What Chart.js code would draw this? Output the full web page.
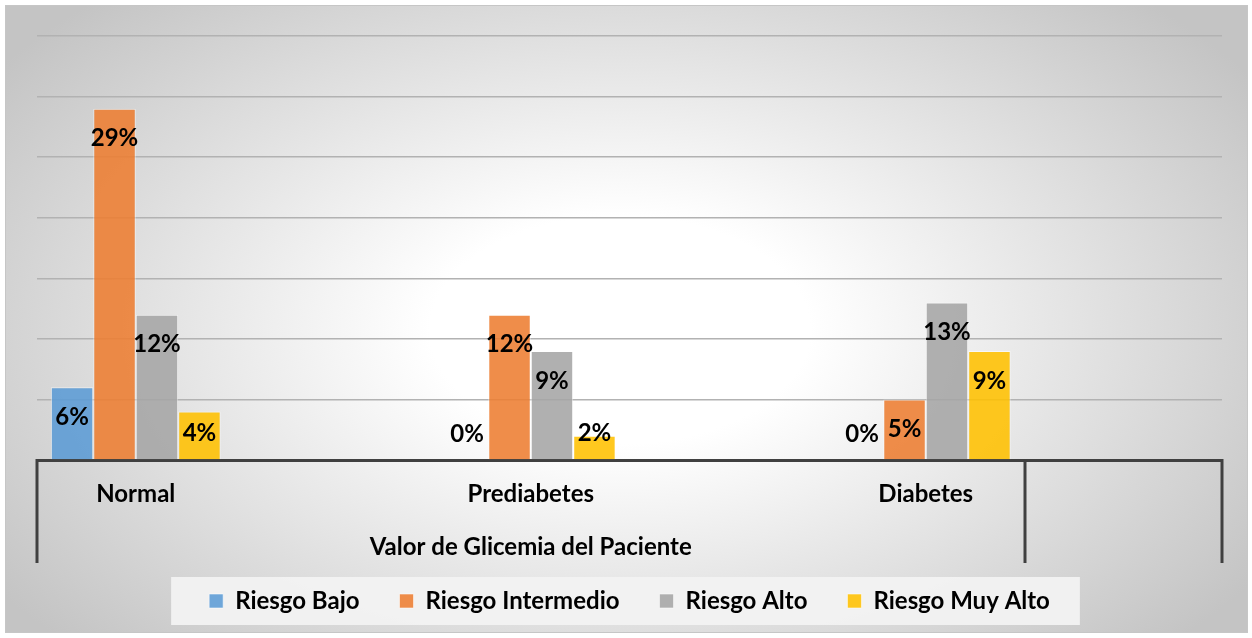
<!DOCTYPE html>
<html>
<head>
<meta charset="utf-8">
<title>Valor de Glicemia del Paciente</title>
<script src="https://cdn.jsdelivr.net/npm/chart.js@4.4.1/dist/chart.umd.min.js"></script>
<style>
  html, body { margin: 0; padding: 0; background: #fff; }
</style>
</head>
<body>
<canvas id="glicemiaChart" width="1252" height="638"></canvas>
<script>
// porcentajes por valor de glicemia
const categories = ['Normal', 'Prediabetes', 'Diabetes'];
const riesgoBajo = [6, 0, 0];
const riesgoIntermedio = [29, 12, 5];
const riesgoAlto = [12, 9, 13];
const riesgoMuyAlto = [4, 2, 9];
const seriesNames = ['Riesgo Bajo', 'Riesgo Intermedio', 'Riesgo Alto', 'Riesgo Muy Alto'];
const axisTitle = 'Valor de Glicemia del Paciente';
const yMax = 35;
const yStep = 5;
// x range and the tick marks of the two-level category axis
const xMin = -0.25;
const xMax = 2.75;
const levelEdges = [-0.25, 2.25, 2.75];

const FONT = 'Lato, "Open Sans", sans-serif';
const colors = [
    'rgba(91, 155, 213, 0.88)',
    'rgba(237, 125, 49, 0.88)',
    'rgba(165, 165, 165, 0.88)',
    'rgba(255, 192, 0, 0.88)',
];

const allSeries = [riesgoBajo, riesgoIntermedio, riesgoAlto, riesgoMuyAlto];

const datasets = allSeries.map((values, i) => ({
    label: seriesNames[i],
    data: values.map((v, j) => ({ x: j, y: v })),
    backgroundColor: colors[i],
    borderColor: 'rgba(255, 255, 255, 0.55)',
    borderWidth: 1,
    categoryPercentage: 0.43,
    barPercentage: 1,
}));

// gray radial fill behind everything, plus the legend panel
const backgroundPlugin = {
    id: 'background',
    beforeDraw(chart) {
        const { ctx, width, height } = chart;
        ctx.save();
        ctx.fillStyle = '#fff';
        ctx.fillRect(0, 0, width, height);
        ctx.beginPath();
        ctx.rect(6, 6, width - 10, height - 11);
        ctx.clip();
        ctx.translate(620, 330);
        ctx.scale(1, 0.6);
        const g = ctx.createRadialGradient(0, 0, 0, 0, 0, 760);
        g.addColorStop(0, '#ffffff');
        g.addColorStop(0.25, '#ffffff');
        g.addColorStop(1, '#c4c4c4');
        ctx.fillStyle = g;
        ctx.fillRect(-800, -800, 1600, 1600);
        ctx.restore();

        ctx.save();
        ctx.strokeStyle = '#c6c6c6';
        ctx.lineWidth = 1;
        ctx.strokeRect(5.5, 5.5, width - 10, height - 11);

        const boxes = chart.legend && chart.legend.legendHitBoxes;
        if (boxes && boxes.length) {
            const first = boxes[0];
            const last = boxes[boxes.length - 1];
            const left = first.left - 38;
            const right = last.left + last.width + 30;
            ctx.fillStyle = 'rgba(242, 242, 242, 0.95)';
            ctx.fillRect(left, first.top - 12, right - left, first.height + 24);
        }
        ctx.restore();
    }
};

// percentage labels inside the top of each bar
const valueLabels = {
    id: 'valueLabels',
    afterDatasetsDraw(chart) {
        const { ctx } = chart;
        ctx.save();
        ctx.font = 'bold 24px ' + FONT;
        ctx.fillStyle = '#000';
        ctx.textAlign = 'center';
        ctx.textBaseline = 'middle';
        chart.data.datasets.forEach((ds, i) => {
            const meta = chart.getDatasetMeta(i);
            meta.data.forEach((bar, j) => {
                const { x, y, base } = bar.getProps(['x', 'y', 'base'], true);
                const ty = Math.min(y + 30, base - 26);
                ctx.fillText(ds.data[j].y + '%', x, ty);
            });
        });
        ctx.restore();
    }
};

// separators and title of the outer category level
const axisLevels = {
    id: 'axisLevels',
    afterDraw(chart) {
        const { ctx, chartArea } = chart;
        const xs = chart.scales.x;
        const top = chartArea.bottom;
        ctx.save();
        ctx.strokeStyle = '#404040';
        ctx.lineWidth = 3;
        levelEdges.forEach(v => {
            const px = Math.round(xs.getPixelForValue(v));
            ctx.beginPath();
            ctx.moveTo(px, top - 1);
            ctx.lineTo(px, top + 103);
            ctx.stroke();
        });
        ctx.font = 'bold 24px ' + FONT;
        ctx.fillStyle = '#000';
        ctx.textAlign = 'center';
        ctx.textBaseline = 'middle';
        const cx = (xs.getPixelForValue(levelEdges[0]) + xs.getPixelForValue(levelEdges[1])) / 2;
        ctx.fillText(axisTitle, cx, top + 87);
        ctx.restore();
    }
};

const ctx = document.getElementById('glicemiaChart').getContext('2d');

const glicemiaChart = new Chart(ctx, {
    type: 'bar',
    data: { datasets: datasets },
    options: {
        responsive: false,
        animation: false,
        layout: { padding: { top: 36, left: 37, right: 30, bottom: 15 } },
        scales: {
            x: {
                type: 'linear',
                min: xMin,
                max: xMax,
                offset: false,
                afterBuildTicks: scale => {
                    scale.ticks = categories.map((c, i) => ({ value: i }));
                },
                afterFit: scale => { scale.height = 89; },
                ticks: {
                    callback: value => categories[value],
                    autoSkip: false,
                    maxRotation: 0,
                    padding: 20,
                    color: '#000',
                    font: { family: FONT, size: 24, weight: 'bold' },
                },
                grid: { display: false, drawTicks: false },
                border: { display: true, color: '#404040', width: 3 },
            },
            y: {
                min: 0,
                max: yMax,
                ticks: { display: false, stepSize: yStep },
                afterFit: scale => { scale.width = 0; },
                grid: { color: '#b2b2b2', lineWidth: 1.5, drawTicks: false },
                border: { display: false },
            },
        },
        plugins: {
            tooltip: { enabled: false },
            legend: {
                position: 'bottom',
                maxHeight: 80,
                labels: {
                    color: '#000',
                    boxWidth: 14,
                    boxHeight: 14,
                    padding: 40,
                    font: { family: FONT, size: 24, weight: 'bold' },
                },
            },
        },
    },
    plugins: [backgroundPlugin, valueLabels, axisLevels],
});
</script>
</body>
</html>
